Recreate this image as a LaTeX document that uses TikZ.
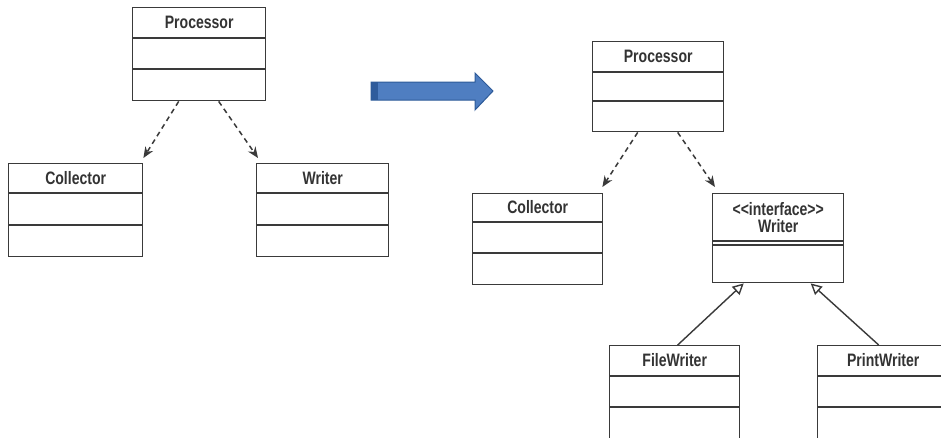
\documentclass[tikz,border=0pt]{standalone}
\usepackage{fontspec}
\setmainfont{Liberation Sans}[FakeStretch=0.78]
\usetikzlibrary{arrows.meta,calc}
\definecolor{ln}{HTML}{3A3A3A}
\definecolor{arrfill}{HTML}{4F7EC1}
\definecolor{arredge}{HTML}{2E5B99}
\definecolor{arrdark}{HTML}{2F5C9C}
\tikzset{
  umlbox/.style={draw=ln, line width=1.4pt, rectangle, inner sep=0pt, anchor=north west},
  lbl/.style={font=\fontsize{18}{20}\selectfont\bfseries, text=black!80, inner sep=0pt},
  dep/.style={draw=ln, line width=1.5pt, dash pattern=on 5pt off 4pt, -{Stealth[length=11pt,width=9pt]}},
  inh/.style={draw=ln, line width=1.4pt, -{Triangle[open,length=11pt,width=11pt]}},
  sepline/.style={draw=ln, line width=1.4pt},
}
% name, x, y, w, h, line1, line2, text
\newcommand\myumlclass[8]{%
  \node[umlbox, minimum width=#4pt, minimum height=#5pt] (#1) at (#2,#3) {};
  \draw[sepline] ($(#1.north west)+(0,#6)$) -- ($(#1.north east)+(0,#6)$);
  \draw[sepline] ($(#1.north west)+(0,#7)$) -- ($(#1.north east)+(0,#7)$);
  \node[lbl] (#1-t) at ($(#1.north)+(0,#6/2)$) {#8};
}
\begin{document}
\begin{tikzpicture}[x=1pt,y=-1pt]
\useasboundingbox (0,0) rectangle (941,437);
\fill[white] (0,0) rectangle (941,437);
\clip (0,0) rectangle (941,437);

% left side
\myumlclass{p1}{132}{7}{133}{93}{31}{62}{Processor}
\myumlclass{c1}{8}{163}{134}{93}{30}{62}{Collector}
\myumlclass{w1}{256}{163}{132}{93}{30}{62}{Writer}
\draw[dep] ($(p1.south)+(-20.5,0)$) -- ($(c1.north east)+(0,-5)$);
\draw[dep] ($(p1.south)+(19.5,0)$) -- ($(w1.north west)+(2,-5)$);

% block arrow
\fill[arrfill] (371,82) -- (475,82) -- (475,73) -- (493,91) -- (475,110) -- (475,100) -- (371,100) -- cycle;
\fill[arrdark] (371,82) rectangle (378,100);
\draw[arredge, line width=1pt, line join=miter] (371,82) -- (475,82) -- (475,73) -- (493,91) -- (475,110) -- (475,100) -- (371,100) -- cycle;

% right side
\myumlclass{p2}{592}{41}{131}{90}{31}{60}{Processor}
\myumlclass{c2}{472}{193}{130}{91}{29}{60}{Collector}
\node[umlbox, minimum width=131pt, minimum height=89pt] (w2) at (712,193) {};
\draw[sepline] ($(w2.north west)+(0,48)$) -- ($(w2.north east)+(0,48)$);
\draw[sepline] ($(w2.north west)+(0,52)$) -- ($(w2.north east)+(0,52)$);
\node[lbl, align=center] (w2-t) at ($(w2.north)+(0,25)$) {<\kern0pt<interface>\kern0pt>\\[-3pt]Writer};
\draw[dep] ($(p2.south)+(-20.5,0)$) -- ($(c2.north east)+(-1,-6)$);
\draw[dep] ($(p2.south)+(19.5,0)$) -- ($(w2.north west)+(3,-6)$);

\myumlclass{fw}{609}{345}{130}{93}{31}{62}{FileWriter}
\myumlclass{pw}{817}{345}{131}{93}{31}{62}{PrintWriter}
\draw[inh] ($(fw.north)+(3,0)$) -- ($(w2.south)+(-34.5,0)$);
\draw[inh] ($(pw.north)+(-4.5,0)$) -- ($(w2.south)+(32.5,0)$);
\end{tikzpicture}
\end{document}
